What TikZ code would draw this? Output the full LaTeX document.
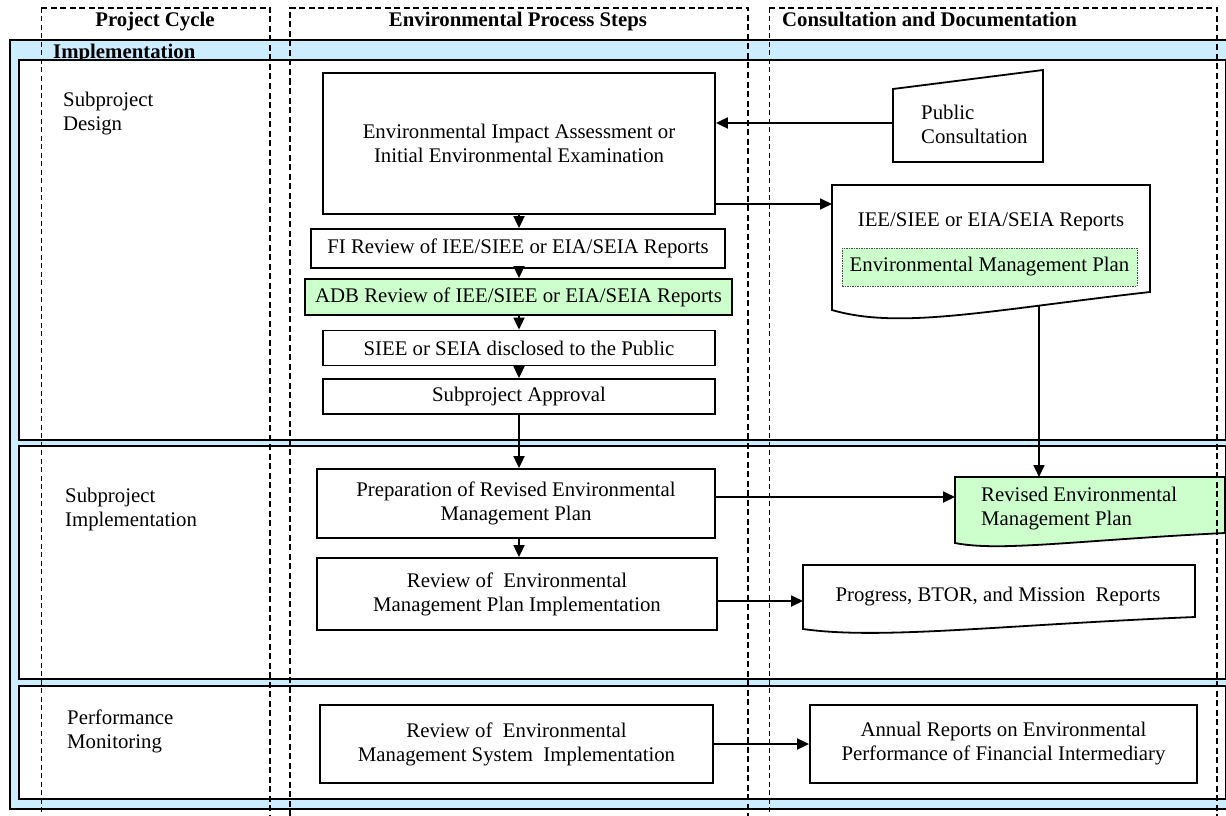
\documentclass[tikz,border=0pt]{standalone}
\usepackage{fontspec}
\setmainfont{Liberation Serif}
\usetikzlibrary{arrows.meta,calc}
\definecolor{bandblue}{RGB}{204,236,255}
\definecolor{notegreen}{RGB}{204,255,204}
\tikzset{
  txt/.style={font=\fontsize{20.8}{24}\selectfont, inner sep=0pt},
  hdr/.style={font=\fontsize{20.8}{24}\selectfont\bfseries, inner sep=0pt},
  stepbox/.style={txt, draw, line width=1.8pt, fill=white, align=center},
  body/.style={inner sep=0pt, outer sep=0pt},
  outline/.style={draw, line width=1.8pt, fill=white},
  phase/.style={draw, line width=1.8pt, fill=white, inner sep=0pt},
  flow/.style={line width=1.8pt, -{Triangle[length=12pt,width=11pt]}},
  lanethick/.style={line width=2pt, dash pattern=on 6pt off 3.5pt},
  lanethin/.style={line width=1pt, dash pattern=on 5pt off 3.5pt},
}
\begin{document}
\begin{tikzpicture}[x=1pt,y=-1pt]
\useasboundingbox (0,0) rectangle (1226,816);

% outer band and stage title
\node[draw, fill=bandblue, line width=1.8pt, inner sep=0pt, anchor=north west,
      minimum width=1240, minimum height=769] (frame) at (9,39) {};
\node[hdr, anchor=base west] (impl) at (53,59) {Implementation};

% three stages
\node[phase, anchor=north west, minimum width=1207, minimum height=380] (design) at (18,59) {};
\node[phase, anchor=north west, minimum width=1207, minimum height=233] (implement) at (18,445) {};
\node[phase, anchor=north west, minimum width=1207, minimum height=113] (perf) at (18,685) {};

% column headings
\node[hdr, anchor=base] (h1) at (155,27) {Project Cycle};
\node[hdr, anchor=base] (h2) at (518,27) {Environmental Process Steps};
\node[hdr, anchor=base west] (h3) at (782,27) {Consultation and Documentation};

% stage labels
\node[txt, align=left, anchor=west] (lab1) at (63,114) {Subproject\\Design};
\node[txt, align=left, anchor=west] (lab2) at (65,509.5) {Subproject\\Implementation};
\node[txt, align=left, anchor=west] (lab3) at (67,731) {Performance\\Monitoring};

% process steps
\node[stepbox, minimum width=392, minimum height=141] (eia) at (519,143.5)
  {Environmental Impact Assessment or\\Initial Environmental Examination};
\node[stepbox, minimum width=414, minimum height=39] (fi) at (518,248.5)
  {FI Review of IEE/SIEE or EIA/SEIA Reports};
\node[stepbox, fill=notegreen, minimum width=427, minimum height=36] (adb) at (518.5,297)
  {ADB Review of IEE/SIEE or EIA/SEIA Reports};
\node[stepbox, minimum width=392, minimum height=35] (siee) at (519,348)
  {SIEE or SEIA disclosed to the Public};
\node[stepbox, minimum width=392, minimum height=35] (appr) at (519,396.5)
  {Subproject Approval};
\node[stepbox, minimum width=398, minimum height=69] (prep) at (516,503.5)
  {Preparation of Revised Environmental\\Management Plan};
\node[stepbox, minimum width=400, minimum height=72] (rev) at (517,594)
  {Review of\ \ Environmental\\Management Plan Implementation};
\node[stepbox, minimum width=393, minimum height=78] (ems) at (516.5,744)
  {Review of\ \ Environmental\\Management System\ \ Implementation};
\node[stepbox, minimum width=387, minimum height=78] (annual) at (1003.5,744)
  {Annual Reports on Environmental\\Performance of Financial Intermediary};

% public consultation (manual input)
\node[body, minimum width=150, minimum height=92] (pc) at (968,116) {};
\draw[outline] (pc.south west) -- (pc.south east) -- (pc.north east)
  -- ([yshift=-19pt]pc.north west) -- cycle;
\node[txt, align=left, anchor=west] (pctext) at (921,124) {Public\\Consultation};

% assessment reports (document)
\node[body, minimum width=318, minimum height=107] (iee) at (991,238.5) {};
\draw[outline] (iee.south east) -- (iee.north east) -- (iee.north west) -- (832,310)
  .. controls (900,330) and (990,310) .. (iee.south east) -- cycle;
\node[txt] (ieetext) at (991,222) {IEE/SIEE or EIA/SEIA Reports};
\node[txt, draw=black!70, line width=0.8pt, dash pattern=on 1.5pt off 1pt, fill=notegreen,
      minimum width=295, minimum height=38] (emp) at (989.5,267) {Environmental Management Plan};

% revised plan (document)
\node[body, minimum width=270, minimum height=56] (remp) at (1090,505) {};
\draw[outline, fill=notegreen] (remp.south east) -- (remp.north east) -- (remp.north west) -- (955,543)
  .. controls (1000,552) and (1080,540) .. (remp.south east) -- cycle;
\node[txt, align=left, anchor=west] (remptext) at (981,508.5) {Revised Environmental\\Management Plan};

% progress reports (document)
\node[body, minimum width=392, minimum height=52] (prog) at (999,591) {};
\draw[outline] (prog.south east) -- (prog.north east) -- (prog.north west) -- (803,629)
  .. controls (880,640) and (1000,625) .. (prog.south east) -- cycle;
\node[txt] (progtext) at (998,597) {Progress, BTOR, and Mission\ \ Reports};

% connectors
\coordinate (pcout) at ([yshift=-7pt]pc.west);
\coordinate (ieein) at ([yshift=-19pt]iee.north west);
\coordinate (ieeout) at ([xshift=48pt,yshift=-13pt]iee.south);
\coordinate (prepout) at ([yshift=6.5pt]prep.east);
\coordinate (revout) at ([yshift=-7pt]rev.east);

\draw[flow] (pcout) -- (pcout -| eia.east);
\draw[flow] (ieein -| eia.east) -- (ieein);
\draw[flow] (eia.south) -- (eia.south |- fi.north);
\draw[flow] (eia.south |- fi.south) -- (eia.south |- adb.north);
\draw[flow] (eia.south |- adb.south) -- (eia.south |- siee.north);
\draw[flow] (siee.south) -- (siee.south |- appr.north);
\draw[flow] (appr.south) -- (appr.south |- prep.north);
\draw[flow] (appr.south |- prep.south) -- (appr.south |- rev.north);
\draw[flow] (ieeout) -- (ieeout |- remp.north);
\draw[flow] (prepout) -- (prepout -| remp.west);
\draw[flow] (revout) -- (revout -| prog.west);
\draw[flow] (ems.east) -- (annual.west);

% swimlane borders
\draw[lanethin] (41,8) -- (41,816);
\draw[lanethick] (41,8) -- (270,8) -- (270,816);
\draw[lanethick] (290,816) -- (290,8) -- (748,8) -- (748,816);
\draw[lanethin] (769,8) -- (769,816);
\draw[lanethick] (769,8) -- (1217,8) -- (1217,816);
\end{tikzpicture}
\end{document}
